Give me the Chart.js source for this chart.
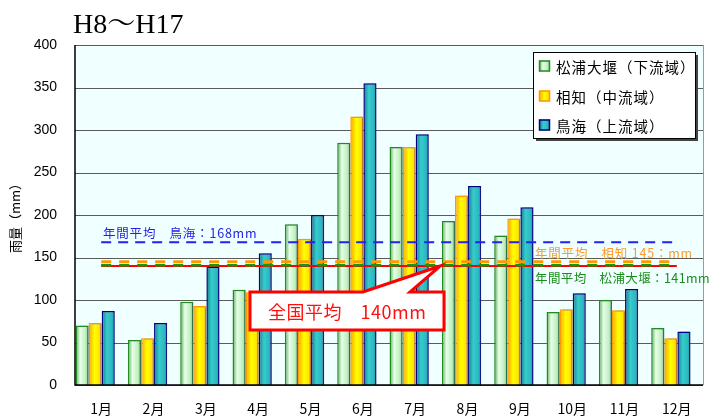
<!DOCTYPE html>
<html>
<head>
<meta charset="utf-8">
<script src="https://cdn.jsdelivr.net/npm/chart.js"></script>
<style>
body { margin: 0; background: #fff; }
</style>
</head>
<body>
<canvas id="rainChart" width="712" height="420"></canvas>
<script>
// monthly rainfall (mm), H8-H17 average
var months = ['1月', '2月', '3月', '4月', '5月', '6月', '7月', '8月', '9月', '10月', '11月', '12月'];
var seriesNames = ['松浦大堰（下流域）', '相知（中流域）', '鳥海（上流域）'];
var matsuura = [70, 53, 98, 112, 189, 285, 280, 193, 176, 86, 100, 67];
var ouchi = [73, 55, 93, 109, 172, 316, 280, 223, 196, 89, 88, 55];
var chokai = [87, 73, 139, 155, 200, 355, 295, 234, 209, 108, 113, 63];
// yearly averages: 松浦大堰, 相知, 鳥海
var yearAvg = [141, 145, 168];
var nationalAvg = 140;
var yMax = 400, yStep = 50;

// in the original the bar groups sit a few px left of the month labels
var plotShift = 6;

var barBorders = ['#228b22', '#ff9900', '#000080'];
var barStops = [
    [[0, '#4fa84f'], [0.35, '#e8ffe8'], [0.75, '#c0f0c0'], [1, '#8fd08f']],
    [[0, '#ff9c00'], [0.45, '#ffff00'], [0.8, '#ffe600'], [1, '#ffb400']],
    [[0, '#137c8c'], [0.4, '#36cccc'], [0.8, '#2ab8c0'], [1, '#157a90']]
];

function barGradient(ctx, x0, x1, i) {
    var g = ctx.createLinearGradient(x0, 0, x1, 0);
    barStops[i].forEach(function(s) { g.addColorStop(s[0], s[1]); });
    return g;
}

function barSet(i, values) {
    return {
        label: seriesNames[i],
        data: values,
        backgroundColor: function() { return barStops[i][1][1]; },
        borderColor: barBorders[i],
        borderWidth: 1.5,
        borderSkipped: 'bottom',
        categoryPercentage: 0.75,
        barPercentage: 1
    };
}

var cjk = '"Noto Sans CJK JP", "Noto Sans", sans-serif';

// average lines run from the first to the last month label
function drawAvgLine(chart, value, color, width, dash) {
    var ctx = chart.ctx, x = chart.scales.x, y = chart.scales.y;
    var py = y.getPixelForValue(value);
    ctx.save();
    ctx.strokeStyle = color;
    ctx.lineWidth = width;
    ctx.setLineDash(dash);
    ctx.beginPath();
    ctx.moveTo(x.getPixelForValue(0) + plotShift, py);
    ctx.lineTo(x.getPixelForValue(months.length - 1) + plotShift, py);
    ctx.stroke();
    ctx.restore();
}

var decorPlugin = {
    id: 'decor',
    beforeDraw: function(chart) {
        var ctx = chart.ctx, a = chart.chartArea, y = chart.scales.y;
        var l = a.left + plotShift, r = a.right + plotShift;
        ctx.save();
        ctx.fillStyle = '#f0ffff';
        ctx.fillRect(l, a.top, r - l, a.bottom - a.top);
        // horizontal grid
        ctx.strokeStyle = '#5a5a5a';
        ctx.lineWidth = 1;
        y.ticks.forEach(function(t) {
            var py = Math.round(y.getPixelForValue(t.value)) + 0.5;
            ctx.beginPath();
            ctx.moveTo(l, py);
            ctx.lineTo(r, py);
            ctx.stroke();
        });
        ctx.strokeStyle = '#9a9a9a';
        ctx.beginPath();
        ctx.moveTo(r + 0.5, a.top);
        ctx.lineTo(r + 0.5, a.bottom);
        ctx.stroke();
        ctx.restore();
    },
    beforeDatasetsDraw: function(chart) {
        var ctx = chart.ctx;
        for (var i = 0; i < 3; i++) {
            chart.getDatasetMeta(i).data.forEach(function(el) {
                var g = barGradient(ctx, el.x - el.width / 2, el.x + el.width / 2, i);
                el.options = Object.assign({}, el.options, {backgroundColor: g});
            });
        }
    },
    beforeDatasetDraw: function(chart) {
        chart.ctx.save();
        chart.ctx.shadowColor = 'rgba(70, 70, 150, 0.35)';
        chart.ctx.shadowOffsetX = 3;
        chart.ctx.shadowOffsetY = 0;
    },
    afterDatasetDraw: function(chart) {
        chart.ctx.restore();
    },
    afterDatasetsDraw: function(chart) {
        var ctx = chart.ctx, a = chart.chartArea, y = chart.scales.y;
        var l = a.left + plotShift, r = a.right + plotShift;
        ctx.save();
        // axis lines
        ctx.strokeStyle = '#000';
        ctx.lineWidth = 1.5;
        ctx.beginPath();
        ctx.moveTo(l, a.top);
        ctx.lineTo(l, a.bottom);
        ctx.lineTo(r, a.bottom);
        ctx.stroke();

        drawAvgLine(chart, nationalAvg, '#ff0000', 2, []);
        drawAvgLine(chart, yearAvg[0], '#119911', 2.5, [10, 8]);
        drawAvgLine(chart, yearAvg[1], '#ff9900', 3, [10, 8]);
        drawAvgLine(chart, yearAvg[2], '#2222ee', 2, [10, 7]);

        // average labels
        ctx.textBaseline = 'middle';
        ctx.font = '12.5px ' + cjk;
        ctx.letterSpacing = '0.8px';
        ctx.fillStyle = '#2323e0';
        ctx.fillText('年間平均　鳥海：' + yearAvg[2] + 'mm', l + 28, y.getPixelForValue(yearAvg[2]) - 9);
        ctx.letterSpacing = '0.8px';
        ctx.fillStyle = '#ff9a2a';
        ctx.fillText('年間平均　相知 ' + yearAvg[1] + '：mm', l + 460, y.getPixelForValue(yearAvg[1]) - 9);
        ctx.letterSpacing = '0.4px';
        ctx.fillStyle = '#1a8c1a';
        ctx.fillText('年間平均　松浦大堰：' + yearAvg[0] + 'mm', l + 460, y.getPixelForValue(yearAvg[0]) + 13);

        // national average callout
        var ny = y.getPixelForValue(nationalAvg);
        var cw = chart.scales.x.getPixelForValue(1) - chart.scales.x.getPixelForValue(0);
        var bx0 = l + 175, bx1 = l + 369, by0 = ny + 26, by1 = ny + 64;
        var tipX = chart.scales.x.getPixelForValue(6) + cw / 2 + plotShift - 1;
        ctx.beginPath();
        ctx.moveTo(bx0, by0);
        ctx.lineTo(l + 288, by0);
        ctx.lineTo(tipX, ny);
        ctx.lineTo(l + 335, by0);
        ctx.lineTo(bx1, by0);
        ctx.lineTo(bx1, by1);
        ctx.lineTo(bx0, by1);
        ctx.closePath();
        ctx.fillStyle = '#fff';
        ctx.fill();
        ctx.strokeStyle = '#ff0000';
        ctx.lineWidth = 3;
        ctx.lineJoin = 'miter';
        ctx.stroke();
        ctx.fillStyle = '#ff1010';
        ctx.font = '18px ' + cjk;
        ctx.letterSpacing = '0.5px';
        ctx.fillText('全国平均　' + nationalAvg + 'mm', bx0 + 18, (by0 + by1) / 2 + 1);
        ctx.restore();
    },
    afterDraw: function(chart) {
        var ctx = chart.ctx;
        ctx.save();
        // title
        ctx.fillStyle = '#000';
        ctx.font = '28px "Liberation Serif", "Noto Serif CJK JP", serif';
        ctx.textBaseline = 'alphabetic';
        ctx.fillText('H8～H17', 73, 33);

        // legend
        var lx = 533, ly = 52, lw = 162, lh = 86;
        ctx.fillStyle = '#444';
        ctx.fillRect(lx + 3, ly + 3, lw, lh);
        ctx.fillStyle = '#fff';
        ctx.fillRect(lx, ly, lw, lh);
        ctx.strokeStyle = '#000';
        ctx.lineWidth = 1;
        ctx.strokeRect(lx + 0.5, ly + 0.5, lw, lh);
        ctx.font = '14.5px ' + cjk;
        ctx.letterSpacing = '1px';
        ctx.textBaseline = 'middle';
        var rows = [66, 96, 125];
        for (var i = 0; i < 3; i++) {
            var cy = rows[i];
            ctx.fillStyle = barGradient(ctx, lx + 6, lx + 17, i);
            ctx.fillRect(lx + 6, cy - 5.5, 11, 11);
            ctx.strokeStyle = barBorders[i];
            ctx.lineWidth = 1.5;
            ctx.strokeRect(lx + 6.5, cy - 5, 10, 10);
            ctx.fillStyle = '#000';
            ctx.fillText(seriesNames[i], lx + 23, cy + 1);
        }
        ctx.restore();
    }
};

var ctx = document.getElementById('rainChart').getContext('2d');
new Chart(ctx, {
    type: 'bar',
    data: {
        labels: months,
        datasets: [
            barSet(0, matsuura),
            barSet(1, ouchi),
            barSet(2, chokai)
        ]
    },
    options: {
        responsive: false,
        animation: false,
        devicePixelRatio: 1,
        layout: { padding: { top: 45, right: 15, left: 0, bottom: 0 } },
        plugins: {
            legend: { display: false },
            tooltip: { enabled: false }
        },
        scales: {
            x: {
                grid: { display: false, drawTicks: false },
                border: { display: false },
                ticks: {
                    color: '#000',
                    font: { family: cjk, size: 14 },
                    padding: 15,
                    labelOffset: plotShift,
                    maxRotation: 0,
                    autoSkip: false
                },
                afterFit: function(scale) { scale.height = 35; }
            },
            y: {
                min: 0,
                max: yMax,
                grid: { display: false, drawTicks: false },
                border: { display: false },
                ticks: {
                    stepSize: yStep,
                    color: '#000',
                    font: { family: '"Liberation Sans", Arial, sans-serif', size: 14 },
                    padding: 12
                },
                title: {
                    display: true,
                    text: '雨量（mm）',
                    color: '#000',
                    font: { family: cjk, size: 13 },
                    padding: { top: 7, bottom: 0 }
                },
                afterFit: function(scale) { scale.width = 69; }
            }
        }
    },
    plugins: [decorPlugin]
});
</script>
</body>
</html>
